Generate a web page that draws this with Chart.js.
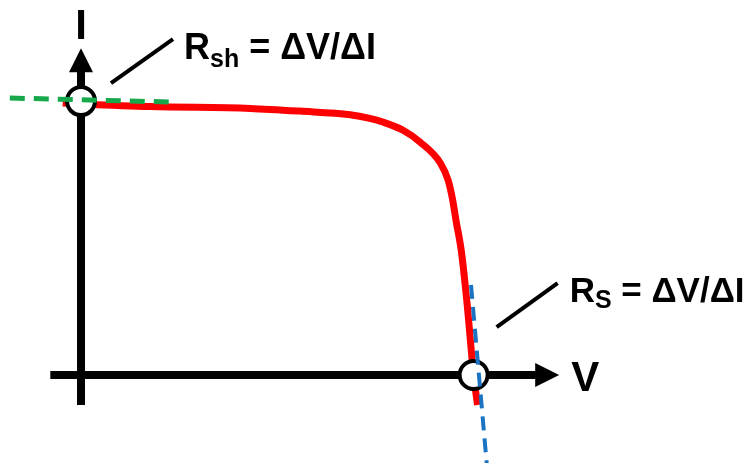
<!DOCTYPE html>
<html>
<head>
<meta charset="utf-8">
<title>I-V curve</title>
<script src="https://cdn.jsdelivr.net/npm/chart.js@4.4.1/dist/chart.umd.min.js"></script>
<style>
  html, body { margin: 0; padding: 0; background: #ffffff; }
  canvas { display: block; }
</style>
</head>
<body>
<canvas id="ivChart" width="745" height="463"></canvas>
<script>
// Solar cell I-V curve (voltage in V, current in A)
var curveV = [-0.028, 0, 0.106, 0.259, 0.335, 0.412, 0.442, 0.462, 0.493, 0.519, 0.550, 0.562, 0.569, 0.574, 0.582, 0.5905, 0.601, 0.607];
var curveI = [2.99, 2.98, 2.95, 2.93, 2.90, 2.86, 2.82, 2.78, 2.69, 2.56, 2.33, 2.14, 1.92, 1.70, 1.37, 0.82, 0.00, -0.33];

// tangent at short circuit (shunt resistance)
var rshV = [-0.109, 0.136];
var rshI = [3.044, 3.0];

// tangent at open circuit (series resistance)
var rsV = [0.597, 0.621];
var rsI = [0.99, -0.97];

// Isc and Voc markers
var markV = [0, 0.601];
var markI = [3.01, 0];

// axis extents (arrow tips at the max end)
var axisV = [-0.047, 0.732];
var axisI = [-0.33, 3.59];

function pts(xs, ys) {
  return xs.map(function (x, i) { return { x: x, y: ys[i] } })
}

var FONT = '"Liberation Sans", Arial, Helvetica, sans-serif'

//-------------
//- AXES WITH ARROWS -
//-------------
var arrowAxes = {
  id: 'arrowAxes',
  beforeDatasetsDraw: function (chart) {
    var ctx = chart.ctx
    var xs = chart.scales.x, ys = chart.scales.y
    var x0 = xs.getPixelForValue(0), y0 = ys.getPixelForValue(0)
    var head = 24, half = 12
    ctx.save()
    ctx.strokeStyle = '#000'
    ctx.fillStyle = '#000'
    ctx.lineWidth = 8
    ctx.lineCap = 'butt'

    // V axis
    var xa = xs.getPixelForValue(axisV[0]), xb = xs.getPixelForValue(axisV[1])
    ctx.beginPath()
    ctx.moveTo(xa, y0)
    ctx.lineTo(xb - head + 1, y0)
    ctx.stroke()
    ctx.beginPath()
    ctx.moveTo(xb, y0)
    ctx.lineTo(xb - head, y0 - half)
    ctx.lineTo(xb - head, y0 + half)
    ctx.closePath()
    ctx.fill()

    // I axis
    var ya = ys.getPixelForValue(axisI[0]), yb = ys.getPixelForValue(axisI[1])
    ctx.beginPath()
    ctx.moveTo(x0, ya)
    ctx.lineTo(x0, yb + head - 1)
    ctx.stroke()
    ctx.beginPath()
    ctx.moveTo(x0, yb)
    ctx.lineTo(x0 - half, yb + head)
    ctx.lineTo(x0 + half, yb + head)
    ctx.closePath()
    ctx.fill()
    ctx.restore()
  },
  afterDatasetsDraw: function (chart) {
    var ctx = chart.ctx
    var xs = chart.scales.x, ys = chart.scales.y
    var x0 = xs.getPixelForValue(0), y0 = ys.getPixelForValue(0)
    ctx.save()
    ctx.fillStyle = '#000'
    ctx.strokeStyle = '#000'
    ctx.textBaseline = 'alphabetic'

    // axis names
    ctx.font = 'bold 42px ' + FONT
    ctx.textAlign = 'center'
    ctx.fillText('I', x0, ys.getPixelForValue(axisI[1]) - 9)
    ctx.textAlign = 'left'
    ctx.fillText('V', xs.getPixelForValue(axisV[1]) + 12, y0 + 16)

    // annotation: leader line + label with subscript
    function note(px, py, dx1, dy1, dx2, dy2, tx, ty, main, sub, rest, size, subSize, subDrop) {
      ctx.lineWidth = 4
      ctx.lineCap = 'butt'
      ctx.beginPath()
      ctx.moveTo(px + dx1, py + dy1)
      ctx.lineTo(px + dx2, py + dy2)
      ctx.stroke()
      var x = px + tx, y = py + ty
      ctx.font = 'bold ' + size + 'px ' + FONT
      ctx.fillText(main, x, y)
      x += ctx.measureText(main).width
      ctx.font = 'bold ' + subSize + 'px ' + FONT
      ctx.fillText(sub, x, y + subDrop)
      x += ctx.measureText(sub).width
      ctx.font = 'bold ' + size + 'px ' + FONT
      ctx.fillText(rest, x, y)
    }

    var scX = xs.getPixelForValue(markV[0]), scY = ys.getPixelForValue(markI[0])
    note(scX, scY, 30, -18, 92, -62, 103, -42, 'R', 'sh', ' = ΔV/ΔI', 36, 25, 8)

    var ocX = xs.getPixelForValue(markV[1]), ocY = ys.getPixelForValue(markI[1])
    note(ocX, ocY, 23, -48, 84, -92, 96, -73, 'R', 'S', ' = ΔV/ΔI', 35, 25, 6)
    ctx.restore()
  }
}

var ctx = document.getElementById('ivChart').getContext('2d')

var ivChart = new Chart(ctx, {
  type: 'line',
  data: {
    datasets: [
      {
        // shunt tangent
        data: pts(rshV, rshI),
        borderColor: '#17a84b',
        borderWidth: 5,
        borderDash: [15, 9],
        pointRadius: 0,
        order: 0
      },
      {
        // series tangent
        data: pts(rsV, rsI),
        borderColor: '#1b73c4',
        borderWidth: 4,
        borderDash: [14, 8],
        pointRadius: 0,
        order: 0
      },
      {
        // Isc / Voc circles
        data: pts(markV, markI),
        showLine: false,
        pointStyle: 'circle',
        pointRadius: 14,
        pointBorderWidth: 4,
        pointBackgroundColor: '#ffffff',
        pointBorderColor: '#000000',
        order: 1
      },
      {
        // I-V curve
        data: pts(curveV, curveI),
        borderColor: '#ff0000',
        borderWidth: 7,
        borderCapStyle: 'butt',
        cubicInterpolationMode: 'monotone',
        pointRadius: 0,
        order: 2
      }
    ]
  },
  options: {
    responsive: false,
    animation: false,
    events: [],
    layout: { padding: 0, autoPadding: false },
    scales: {
      x: { type: 'linear', min: -0.124, max: 1.0164, display: false },
      y: { type: 'linear', min: -0.967, max: 4.121, display: false }
    },
    plugins: {
      legend: { display: false },
      tooltip: { enabled: false }
    }
  },
  plugins: [arrowAxes]
})
</script>
</body>
</html>
